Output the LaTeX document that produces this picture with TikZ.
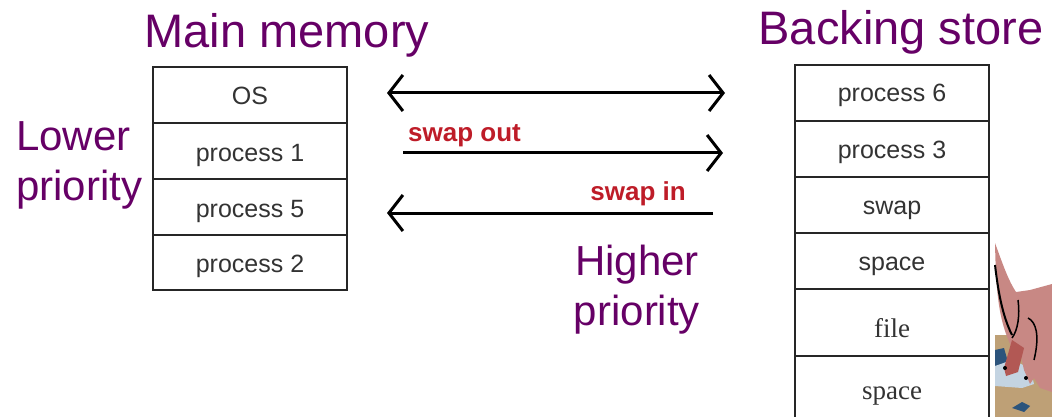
\documentclass[tikz,border=0pt]{standalone}
\usepackage{fontspec}
\setmainfont{Liberation Sans}
\newfontfamily\serifcell{Liberation Serif}
\usetikzlibrary{arrows.meta,positioning}
\definecolor{morado}{RGB}{102,0,102}
\definecolor{rojoswap}{RGB}{190,28,40}
\definecolor{rosa}{RGB}{200,136,132}
\definecolor{rosaosc}{RGB}{178,88,84}
\definecolor{arena}{RGB}{190,160,118}
\definecolor{celeste}{RGB}{196,212,226}
\definecolor{azulosc}{RGB}{44,84,124}
\tikzstyle{titulo} = [text=morado, font=\fontsize{47}{52}\selectfont, inner sep=0pt]
\tikzstyle{prioridad} = [text=morado, font=\fontsize{42}{50}\selectfont, inner sep=0pt]
\tikzstyle{celda} = [draw=black!85, line width=2pt, outer sep=0pt, inner sep=0pt, minimum width=194pt, minimum height=56pt, text height=20pt, text depth=0pt, text=black!80, font=\fontsize{25}{30}\selectfont]
\tikzstyle{celdaserif} = [celda, font=\serifcell\fontsize{27}{30}\selectfont]
\tikzstyle{flecha} = [line width=3pt, -{Straight Barb[length=14pt,width=36pt]}]
\tikzstyle{etiqueta} = [text=rojoswap, font=\fontsize{26}{30}\selectfont\bfseries, inner sep=0pt]

\begin{document}
\begin{tikzpicture}[x=1pt,y=-1pt]
	\useasboundingbox (0,0) rectangle (1052,417);
	\clip (0,0) rectangle (1052,417);

	% main memory
	\node[titulo, anchor=base] (tmain) at (287,48) {Main memory};
	\node[celda] (os) at (250,95) {OS};
	\node[celda, below=0pt of os] (p1) {process 1};
	\node[celda, below=0pt of p1] (p5) {process 5};
	\node[celda, below=0pt of p5, minimum height=55pt] (p2) {process 2};
	\node[prioridad, anchor=base west, align=left] (lower) at (16,200) {Lower\\priority};

	% backing store
	\node[titulo, anchor=base] (tback) at (901,45) {Backing store};
	\node[celda, text height=18pt] (p6) at (892,93) {process 6};
	\node[celda, text height=18pt, below=0pt of p6] (p3) {process 3};
	\node[celda, text height=18pt, below=0pt of p3] (swap) {swap};
	\node[celda, text height=18pt, below=0pt of swap] (space1) {space};
	\node[celdaserif, below=0pt of space1, minimum height=67pt, text height=30pt] (file) {file};
	\node[celdaserif, below=0pt of file, minimum height=80pt, text height=6pt] (space2) {space};
	\node[prioridad, anchor=base, align=center] (higher) at (637,325) {Higher\\priority};

	% arrows
	\coordinate (izqA) at (387,93);
	\coordinate (derA) at (725,93);
	\coordinate (izqB) at (403,153);
	\coordinate (derB) at (723,153);
	\coordinate (derC) at (713,213);
	\coordinate (izqC) at (387,213);
	\draw[flecha, {Straight Barb[length=14pt,width=36pt]}-{Straight Barb[length=14pt,width=36pt]}] (izqA) -- (derA);
	\draw[flecha] (izqB) -- (derB);
	\draw[flecha] (derC) -- (izqC);
	\node[etiqueta, anchor=base west] (out) at (408,142) {swap out};
	\node[etiqueta, anchor=base east] (in) at (686,200) {swap in};

	% dinosaur in the corner
	\fill[arena] (995,335) rectangle (1052,417);
	\fill[azulosc] (995,350) -- (1004,348) -- (1008,362) -- (995,368) -- cycle;
	\fill[celeste] (995,366) -- (1012,360) -- (1030,368) -- (1034,384) -- (1022,388) -- (995,386) -- cycle;
	\fill[azulosc] (1012,408) -- (1022,402) -- (1030,406) -- (1024,412) -- cycle;
	\fill[rosa] (995,243) .. controls (1002,262) and (1008,280) .. (1016,292)
		-- (1030,290) -- (1052,284) -- (1052,392) -- (1040,388) -- (1034,378)
		-- (1030,384) -- (1024,370) -- (1020,352) -- (1012,348)
		.. controls (998,320) and (996,290) .. cycle;
	\fill[rosaosc] (1012,340) -- (1024,348) -- (1018,372) -- (1006,376) -- (1004,368) -- cycle;
	\draw[line width=2pt] (995,265) .. controls (998,290) and (1002,315) .. (1012,335);
	\draw[line width=1.5pt] (1028,318) .. controls (1036,322) and (1040,335) .. (1034,360);
	\draw[line width=1.5pt] (1018,300) .. controls (1020,315) and (1018,330) .. (1012,338);
	\fill (1005,368) circle (2pt);
	\fill (1026,378) circle (2pt);
\end{tikzpicture}
\end{document}
